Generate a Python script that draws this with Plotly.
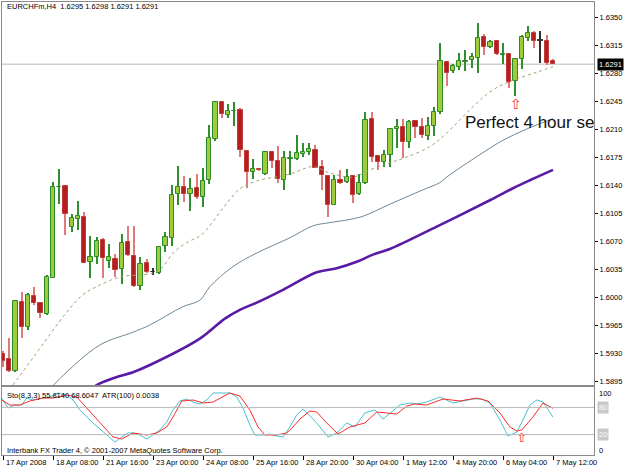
import plotly.graph_objects as go

# ---------------- data ----------------
tick_labels = ["17 Apr 2008", "18 Apr 08:00", "21 Apr 16:00", "23 Apr 00:00", "24 Apr 08:00",
               "25 Apr 16:00", "28 Apr 20:00", "30 Apr 04:00", "1 May 12:00", "4 May 20:00",
               "6 May 04:00", "7 May 12:00"]
tick_bars = [0, 8, 16, 24, 32, 40, 48, 56, 64, 72, 80, 88]

opens = [1.5929, 1.5923, 1.5908, 1.5994, 1.5963, 1.6001, 1.5993, 1.5979, 1.6024, 1.6137,
         1.6139, 1.6088, 1.6098, 1.6100, 1.6044, 1.6050, 1.6071, 1.6045, 1.6048, 1.6035,
         1.6069, 1.6051, 1.6014, 1.6043, 1.6031, 1.6030, 1.6064, 1.6074, 1.6129, 1.6138,
         1.6129, 1.6136, 1.6125, 1.6146, 1.6198, 1.6244, 1.6228, 1.6232, 1.6234, 1.6183,
         1.6156, 1.6160, 1.6154, 1.6181, 1.6170, 1.6146, 1.6173, 1.6173, 1.6179, 1.6181,
         1.6184, 1.6163, 1.6151, 1.6115, 1.6146, 1.6144, 1.6151, 1.6129, 1.6143, 1.6223,
         1.6176, 1.6169, 1.6178, 1.6210, 1.6213, 1.6194, 1.6220, 1.6213, 1.6201, 1.6214,
         1.6231, 1.6294, 1.6283, 1.6288, 1.6294, 1.6296, 1.6299, 1.6325, 1.6313, 1.6320,
         1.6303, 1.6304, 1.6270, 1.6298, 1.6324, 1.6330, 1.6320, 1.6320, 1.6295]
highs = [1.5933, 1.5949, 1.5996, 1.6006, 1.6005, 1.6013, 1.5994, 1.6028, 1.6144, 1.6160,
         1.6140, 1.6104, 1.6120, 1.6106, 1.6076, 1.6075, 1.6074, 1.6066, 1.6054, 1.6079,
         1.6089, 1.6089, 1.6050, 1.6048, 1.6036, 1.6064, 1.6081, 1.6140, 1.6164, 1.6151,
         1.6149, 1.6154, 1.6161, 1.6215, 1.6245, 1.6245, 1.6241, 1.6244, 1.6236, 1.6184,
         1.6173, 1.6161, 1.6183, 1.6183, 1.6189, 1.6183, 1.6183, 1.6203, 1.6193, 1.6193,
         1.6190, 1.6171, 1.6151, 1.6153, 1.6159, 1.6160, 1.6152, 1.6154, 1.6231, 1.6231,
         1.6178, 1.6184, 1.6211, 1.6223, 1.6223, 1.6221, 1.6221, 1.6224, 1.6225, 1.6238,
         1.6318, 1.6295, 1.6291, 1.6305, 1.6309, 1.6305, 1.6342, 1.6329, 1.6321, 1.6321,
         1.6318, 1.6305, 1.6299, 1.6328, 1.6339, 1.6332, 1.6332, 1.6328, 1.6298]
lows = [1.5913, 1.5906, 1.5906, 1.5949, 1.5959, 1.5990, 1.5974, 1.5978, 1.6024, 1.6116,
        1.6078, 1.6081, 1.6084, 1.6042, 1.6024, 1.6041, 1.6024, 1.6036, 1.6025, 1.6016,
        1.6051, 1.6013, 1.6009, 1.6030, 1.6028, 1.6029, 1.6056, 1.6064, 1.6115, 1.6119,
        1.6108, 1.6123, 1.6113, 1.6141, 1.6195, 1.6224, 1.6224, 1.6214, 1.6175, 1.6136,
        1.6148, 1.6158, 1.6153, 1.6161, 1.6143, 1.6134, 1.6153, 1.6171, 1.6175, 1.6178,
        1.6161, 1.6134, 1.6100, 1.6115, 1.6141, 1.6143, 1.6118, 1.6127, 1.6141, 1.6169,
        1.6159, 1.6163, 1.6163, 1.6186, 1.6174, 1.6186, 1.6199, 1.6199, 1.6196, 1.6201,
        1.6229, 1.6264, 1.6280, 1.6284, 1.6283, 1.6286, 1.6280, 1.6303, 1.6311, 1.6303,
        1.6291, 1.6261, 1.6251, 1.6285, 1.6320, 1.6311, 1.6293, 1.6290, 1.6291]
closes = [1.5920, 1.5908, 1.5995, 1.5963, 1.6003, 1.5993, 1.5980, 1.6025, 1.6138, 1.6138,
          1.6104, 1.6099, 1.6101, 1.6043, 1.6050, 1.6070, 1.6049, 1.6050, 1.6034, 1.6068,
          1.6053, 1.6014, 1.6041, 1.6031, 1.6031, 1.6063, 1.6075, 1.6128, 1.6138, 1.6129,
          1.6135, 1.6125, 1.6145, 1.6199, 1.6244, 1.6229, 1.6233, 1.6233, 1.6184, 1.6156,
          1.6160, 1.6159, 1.6181, 1.6170, 1.6148, 1.6174, 1.6174, 1.6180, 1.6181, 1.6185,
          1.6161, 1.6153, 1.6115, 1.6146, 1.6143, 1.6150, 1.6128, 1.6143, 1.6221, 1.6175,
          1.6169, 1.6178, 1.6210, 1.6213, 1.6194, 1.6219, 1.6213, 1.6203, 1.6214, 1.6231,
          1.6295, 1.6280, 1.6289, 1.6295, 1.6295, 1.6300, 1.6324, 1.6313, 1.6319, 1.6304,
          1.6304, 1.6269, 1.6298, 1.6325, 1.6330, 1.6320, 1.6320, 1.6293, 1.6291]

ma_fast_x = [0.5, 1.6, 4.8, 10.2, 12.8, 15.0, 18.7, 24.0, 25.6, 27.2, 29.4, 31.8, 35.2, 38.0,
             40.6, 46.0, 49.6, 52.3, 56.0, 58.7, 62.0, 64.6, 68.3, 71.0, 75.2, 78.4, 81.6, 85.4, 88.0]
ma_fast_y = [1.5878, 1.5890, 1.5924, 1.5981, 1.6003, 1.6013, 1.6025, 1.6030, 1.6038, 1.6055,
             1.6068, 1.6078, 1.6111, 1.6136, 1.6145, 1.6154, 1.6163, 1.6155, 1.6150, 1.6159,
             1.6168, 1.6175, 1.6188, 1.6205, 1.6238, 1.6259, 1.6271, 1.6281, 1.6288]
ma_mid_x = [7.0, 9.1, 15.5, 20.8, 23.5, 28.8, 31.5, 33.1, 36.8, 40.6, 45.9, 49.6, 52.3, 55.5,
            57.6, 61.9, 67.2, 69.9, 71.0, 76.3, 80.0, 83.8, 88.0]
ma_mid_y = [1.5880, 1.5898, 1.5940, 1.5956, 1.5965, 1.5988, 1.5996, 1.6013, 1.6038, 1.6055,
            1.6074, 1.6089, 1.6093, 1.6097, 1.6101, 1.6116, 1.6134, 1.6143, 1.6150, 1.6178,
            1.6196, 1.6210, 1.6223]
ma_slow_x = [13.5, 15.0, 18.2, 20.8, 23.5, 31.5, 35.5, 37.9, 40.6, 44.8, 50.2, 53.4, 56.6,
             59.2, 61.9, 69.4, 77.9, 81.6, 84.3, 88.0]
ma_slow_y = [1.5880, 1.5890, 1.5900, 1.5906, 1.5915, 1.5948, 1.5973, 1.5984, 1.5993, 1.6009,
             1.6031, 1.6036, 1.6044, 1.6053, 1.6060, 1.6088, 1.6121, 1.6136, 1.6146, 1.6159]

sto_main_x = [-0.2, 0.8, 1.9, 3.0, 3.8, 4.8, 6.4, 7.5, 8.8, 10.2, 11.2, 12.3, 14.4, 16.6, 17.9,
              19.0, 20.0, 20.8, 21.9, 23.0, 24.0, 25.1, 26.2, 27.2, 28.3, 29.4, 30.4, 31.5,
              32.6, 33.6, 34.7, 36.3, 37.4, 38.4, 39.5, 40.3, 41.6, 42.7, 43.8, 44.8, 45.9,
              47.0, 48.0, 48.6, 50.2, 52.0, 53.4, 55.0, 56.3, 57.9, 59.5, 60.8, 61.9, 63.5,
              65.1, 66.2, 67.8, 69.9, 72.0, 73.6, 75.2, 76.6, 77.9, 79.5, 80.8, 82.2, 83.2,
              84.3, 85.4, 86.4, 88.0]
sto_main_y = [83.8, 69.1, 73.5, 73.5, 83.8, 80.9, 83.8, 85.3, 91.2, 88.2, 80.9, 66.2, 47.1,
              29.4, 19.1, 26.5, 32.4, 32.4, 29.4, 23.5, 29.4, 36.8, 48.5, 66.2, 79.4, 82.4,
              77.9, 75.0, 80.9, 91.2, 91.2, 91.2, 85.3, 69.1, 44.1, 29.4, 29.4, 30.9, 27.9,
              26.5, 41.2, 58.8, 67.6, 61.8, 47.1, 26.5, 32.4, 47.1, 41.2, 61.8, 66.2, 52.9,
              61.8, 73.5, 76.5, 75.0, 77.9, 85.3, 76.5, 79.4, 82.4, 82.4, 76.5, 51.5, 27.9,
              33.8, 51.5, 73.5, 80.9, 77.9, 55.8]
sto_sig_x = [-0.2, 1.1, 2.7, 4.3, 6.4, 8.0, 10.2, 11.8, 13.4, 15.5, 17.6, 19.0, 20.8, 23.0,
             24.6, 26.2, 27.2, 28.6, 30.4, 32.0, 33.6, 36.3, 37.9, 39.5, 40.8, 41.9, 43.8,
             45.4, 46.4, 47.5, 49.1, 50.2, 51.8, 53.6, 55.5, 57.9, 59.8, 61.4, 63.0, 64.6,
             65.9, 67.8, 70.4, 73.1, 75.8, 77.6, 79.5, 81.1, 82.2, 83.0, 84.8, 86.4, 88.0]
sto_sig_y = [80.9, 73.5, 73.5, 79.4, 83.8, 83.8, 88.2, 85.3, 69.1, 47.1, 26.5, 23.5, 32.4,
             29.4, 32.4, 41.2, 55.9, 79.4, 80.9, 76.5, 77.9, 91.2, 86.8, 66.2, 41.2, 29.4,
             29.4, 32.4, 41.2, 52.9, 64.7, 63.2, 47.1, 30.9, 41.2, 47.1, 63.2, 61.8, 60.3,
             72.1, 75.0, 73.5, 82.4, 79.4, 83.8, 79.4, 61.8, 41.2, 35.3, 36.8, 55.9, 76.5, 68.6]

price_ticks = [1.6350, 1.6315, 1.6280, 1.6245, 1.6210, 1.6175, 1.6140, 1.6105, 1.6070,
               1.6035, 1.6000, 1.5965, 1.5930, 1.5895]
bid_price = 1.6291
sto_levels = [70, 30]
sto_level_labels = ["80", "20"]
title_text = "EURCHFm,H4  1.6295 1.6298 1.6291 1.6291"
sto_text = "Sto(8,3,3) 55.8140 68.6047  ATR(100) 0.0038"
copyright_text = "Interbank FX Trader 4, \u00a9 2001-2007 MetaQuotes Software Corp."
note_text = "Perfect 4 hour set"
note_bar, note_price = 73.9, 1.6216
arrow_bar, arrow_price = 82, 1.6240
arrow2_bar, arrow2_value = 83, 23.5

# ---------------- figure ----------------
FONT = "Tahoma, 'Liberation Sans', Arial, sans-serif"
fig = go.Figure()

groups = {"bull": [], "bear": [], "doji": []}
for i, (o, c) in enumerate(zip(opens, closes)):
    if c > o:
        groups["bull"].append(i)
    elif c < o:
        groups["bear"].append(i)
    else:
        groups["doji"].append(i)

style = {
    "bull": dict(wick="#2f8f2f", fill="#9ccc3a", edge="#2a8a2a"),
    "bear": dict(wick="#e07a7a", fill="#b41e1e", edge="#c23a3a"),
    "doji": dict(wick="#303030", fill="#303030", edge="#303030"),
}
MINB = 0.00007
for g, ids in groups.items():
    if not ids:
        continue
    st = style[g]
    fig.add_trace(go.Bar(
        x=ids, base=[lows[i] for i in ids], y=[highs[i] - lows[i] for i in ids],
        width=0.17, marker=dict(color=st["wick"], line=dict(width=0)),
        xaxis="x", yaxis="y", showlegend=False, hoverinfo="skip"))
    fig.add_trace(go.Bar(
        x=ids, base=[min(opens[i], closes[i]) for i in ids],
        y=[max(abs(closes[i] - opens[i]), MINB) for i in ids],
        width=0.7, marker=dict(color=st["fill"], line=dict(width=1, color=st["edge"])),
        xaxis="x", yaxis="y", showlegend=False, hoverinfo="skip"))

fig.add_trace(go.Scatter(x=ma_fast_x, y=ma_fast_y, mode="lines", line_shape="spline",
                         line=dict(color="#a0a470", width=1, dash="dot"),
                         xaxis="x", yaxis="y", showlegend=False, hoverinfo="skip"))
fig.add_trace(go.Scatter(x=ma_mid_x, y=ma_mid_y, mode="lines", line_shape="spline",
                         line=dict(color="#6f8796", width=1),
                         xaxis="x", yaxis="y", showlegend=False, hoverinfo="skip"))
fig.add_trace(go.Scatter(x=ma_slow_x, y=ma_slow_y, mode="lines", line_shape="spline",
                         line=dict(color="#5a1aa6", width=2.6),
                         xaxis="x", yaxis="y", showlegend=False, hoverinfo="skip"))

# note text, clipped by the plot area
fig.add_trace(go.Scatter(x=[note_bar], y=[note_price], mode="text", text=[note_text],
                         textposition="middle right",
                         textfont=dict(family="'Liberation Sans', Arial", size=17, color="#111111"),
                         cliponaxis=True, xaxis="x", yaxis="y", showlegend=False, hoverinfo="skip"))
fig.add_trace(go.Scatter(x=[arrow_bar], y=[arrow_price], mode="text", text=["\u21e7"],
                         textfont=dict(family="DejaVu Sans", size=14, color="#ff2a2a"),
                         xaxis="x", yaxis="y", showlegend=False, hoverinfo="skip"))

# stochastic
for lv in sto_levels:
    fig.add_shape(type="line", xref="x2 domain", yref="y2", x0=0, x1=1, y0=lv, y1=lv,
                  line=dict(color="#b8b8b8", width=1))
fig.add_trace(go.Scatter(x=sto_main_x, y=sto_main_y, mode="lines",
                         line=dict(color="#46c3cf", width=1),
                         xaxis="x2", yaxis="y2", showlegend=False, hoverinfo="skip"))
fig.add_trace(go.Scatter(x=sto_sig_x, y=sto_sig_y, mode="lines",
                         line=dict(color="#ff2a2a", width=1),
                         xaxis="x2", yaxis="y2", showlegend=False, hoverinfo="skip"))
fig.add_trace(go.Scatter(x=[arrow2_bar], y=[arrow2_value], mode="text", text=["\u21e7"],
                         textfont=dict(family="DejaVu Sans", size=13, color="#ff2a2a"),
                         xaxis="x2", yaxis="y2", showlegend=False, hoverinfo="skip"))

# bid line
fig.add_shape(type="line", xref="x domain", yref="y", x0=0, x1=1, y0=bid_price, y1=bid_price,
              line=dict(color="#cfcfcf", width=1.5), layer="below")

W, H = 625, 469
L, R, T, B = 2, 31, 2, 14
PH = H - T - B
def py(p):  # pixel row -> paper fraction
    return (H - B - p) / PH
def px(p):
    return (p - L) / (W - L - R)

axis_common = dict(showgrid=False, zeroline=False, showline=True, mirror=True,
                   linecolor="#8a8a8a", linewidth=1)
fig.update_layout(
    width=W, height=H, margin=dict(l=L, r=R, t=T, b=B, autoexpand=False),
    paper_bgcolor="white", plot_bgcolor="white", barmode="overlay", bargap=0,
    font=dict(family=FONT, size=7.5, color="#000000"),
    xaxis=dict(domain=[0, 1], anchor="y", range=[-0.16, 94.56], showticklabels=False,
               ticks="", **axis_common),
    yaxis=dict(domain=[py(385), 1], anchor="x", side="right", range=[1.5890, 1.63688],
               tickvals=price_ticks, ticktext=[f"{v:.4f}" for v in price_ticks],
               ticks="outside", ticklen=3, tickcolor="#000", tickfont=dict(size=7.5),
               automargin=False, **axis_common),
    xaxis2=dict(domain=[0, 1], anchor="y2", matches="x", range=[-0.16, 94.56],
                tickvals=tick_bars, showticklabels=False, ticks="outside", ticklen=4,
                tickcolor="#000", automargin=False, **axis_common),
    yaxis2=dict(domain=[0, py(387)], anchor="x2", side="right", range=[0, 100],
                tickvals=[], automargin=False, **axis_common),
)

ann = []
ann.append(dict(text=title_text, xref="paper", yref="paper", x=px(5), y=py(7),
                xanchor="left", yanchor="middle", showarrow=False, font=dict(size=7.5)))
ann.append(dict(text=sto_text, xref="paper", yref="paper", x=px(5), y=py(395),
                xanchor="left", yanchor="middle", showarrow=False, font=dict(size=7.5)))
ann.append(dict(text=copyright_text, xref="paper", yref="paper", x=px(5), y=py(450),
                xanchor="left", yanchor="middle", showarrow=False, font=dict(size=7.5)))
ann.append(dict(text=f"{bid_price:.4f}", xref="paper", yref="y", x=1, y=bid_price,
                xanchor="left", yanchor="middle", showarrow=False, bgcolor="#000000",
                font=dict(size=7.5, color="#ffffff"), borderpad=1, xshift=3))
for lv, lab in zip(sto_levels, sto_level_labels):
    ann.append(dict(text=lab, xref="paper", yref="y2", x=1, y=lv, xanchor="left",
                    yanchor="middle", showarrow=False, bgcolor="#c8c8c8",
                    font=dict(size=7.5, color="#ffffff"), xshift=3))
ann.append(dict(text="100", xref="paper", yref="paper", x=1, y=py(393), xanchor="left",
                yanchor="middle", showarrow=False, font=dict(size=7.5), xshift=3))
ann.append(dict(text="0", xref="paper", yref="paper", x=1, y=py(450), xanchor="left",
                yanchor="middle", showarrow=False, font=dict(size=7.5), xshift=3))
for b, lab in zip(tick_bars, tick_labels):
    ann.append(dict(text=lab, xref="x2", yref="paper", x=b, y=py(462), xanchor="left",
                    yanchor="middle", showarrow=False, font=dict(size=7.5), xshift=1))
fig.update_layout(annotations=ann)

fig.write_html("out.html")
